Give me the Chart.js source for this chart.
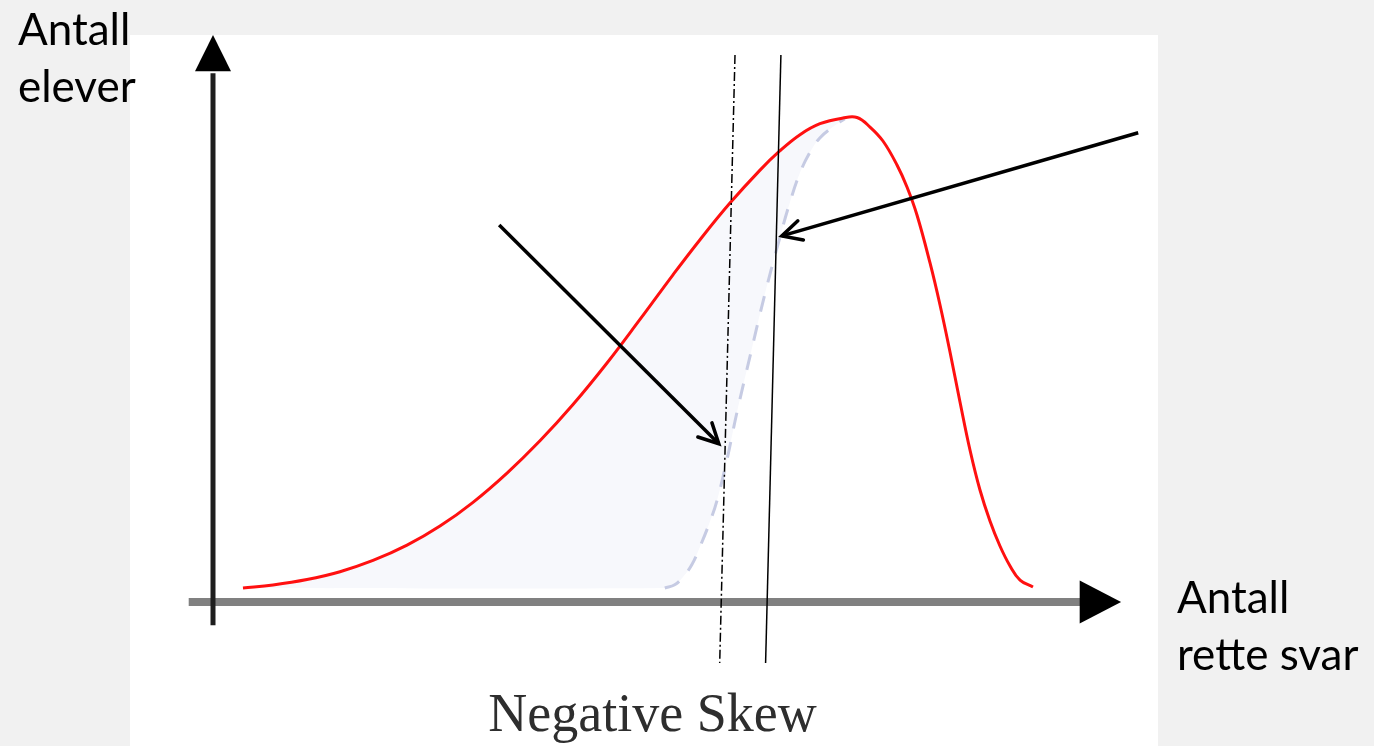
<!DOCTYPE html>
<html><head><meta charset="utf-8">
<script src="https://cdn.jsdelivr.net/npm/chart.js@4.4.1/dist/chart.umd.min.js"></script>
<style>
html,body{margin:0;padding:0;background:#f1f1f1;width:1374px;height:746px;overflow:hidden;position:relative}
#panel{position:absolute;left:130px;top:35px;width:1028px;height:711px;background:#fff}
#c{position:absolute;left:0;top:0}
.lbl{position:absolute;font-family:Lato,'Open Sans',sans-serif;font-size:44px;line-height:57px;color:#000;white-space:pre}
#yl{left:18px;top:0}
#xl{left:1177px;top:568px}
#cap{position:absolute;left:0;width:1305px;text-align:center;top:686px;font-family:'Liberation Serif',serif;font-size:54px;line-height:54px;color:#2e2e2e}
</style></head>
<body>
<div id="panel"></div>
<canvas id="c" width="1374" height="746"></canvas>
<div class="lbl" id="yl">Antall
elever</div>
<div class="lbl" id="xl">Antall
rette svar</div>
<div id="cap">Negative Skew</div>
<script>
// Skewed distribution curve (x = antall rette svar, y = antall elever), 0..100 units
const redX = [3.33, 6.67, 10.44, 14.11, 17.78, 21.56, 25.22, 28.89, 32.67, 36.33, 40.0, 43.78, 47.44, 51.11, 54.11, 57.44, 60.78, 63.0, 65.22, 67.44, 70.0, 71.56, 73.0, 74.44, 76.0, 77.11, 78.22, 79.67, 80.78, 81.89, 83.0, 84.11, 85.22, 86.33, 87.44, 88.56, 89.67, 91.11];
const redY = [2.59, 3.15, 4.15, 5.61, 7.69, 10.52, 14.06, 18.46, 23.87, 29.85, 36.57, 44.26, 52.33, 60.59, 67.09, 73.87, 79.98, 83.57, 86.54, 88.57, 89.63, 89.72, 87.96, 85.37, 80.93, 76.85, 71.67, 62.78, 55.0, 46.3, 37.04, 28.15, 20.74, 15.0, 10.37, 6.67, 4.07, 2.78];
// Dashed (symmetric reference) curve bounding the shaded area
const dashX = [3.3, 50.2, 51.3, 52.2, 53.2, 54.1, 55.2, 56.0, 57.1, 58.2, 59.7, 61.3, 63.0, 64.1, 65.2, 66.3, 67.4, 68.9, 70.2];
const dashY = [2.6, 2.6, 3.2, 4.6, 6.9, 10.2, 14.8, 18.8, 26.3, 35.0, 45.7, 56.9, 67.6, 74.0, 79.4, 83.2, 85.9, 88.0, 89.5];
// Mean (dash-dot) and median (solid) lines
const meanLineX = [58.0, 56.3];
const meanLineY = [101.3, -11.3];
const medianLineX = [63.1, 61.4];
const medianLineY = [101.3, -11.3];
// Pointer arrows
const arrowAX = [31.8, 56.2];
const arrowAY = [69.8, 29.3];
const arrowBX = [102.8, 63.2];
const arrowBY = [86.9, 67.8];

const pts = (xs, ys) => xs.map((x, i) => ({x, y: ys[i]}));

const AX = {yFrom: -4.3, yTo: 98.3, yTip: 105, xFrom: -2.7, xTo: 96.3, xTip: 100.9, yHalf: 2.0, xHalf: 4.0};

const axesPlugin = {
  id: 'axes',
  beforeDatasetsDraw(chart) {
    const {ctx, scales: {x, y}} = chart;
    ctx.save();
    const y0 = y.getPixelForValue(0);
    ctx.strokeStyle = '#808080'; ctx.lineWidth = 8; ctx.lineCap = 'butt';
    ctx.beginPath(); ctx.moveTo(x.getPixelForValue(AX.xFrom), y0); ctx.lineTo(x.getPixelForValue(AX.xTo) + 2, y0); ctx.stroke();
    ctx.fillStyle = '#000';
    ctx.beginPath();
    ctx.moveTo(x.getPixelForValue(AX.xTip), y0);
    ctx.lineTo(x.getPixelForValue(AX.xTo), y.getPixelForValue(AX.xHalf));
    ctx.lineTo(x.getPixelForValue(AX.xTo), y.getPixelForValue(-AX.xHalf));
    ctx.closePath(); ctx.fill();
    const x0 = x.getPixelForValue(0);
    ctx.strokeStyle = '#1e1e1e'; ctx.lineWidth = 5;
    ctx.beginPath(); ctx.moveTo(x0, y.getPixelForValue(AX.yFrom)); ctx.lineTo(x0, y.getPixelForValue(AX.yTo) + 2); ctx.stroke();
    ctx.beginPath();
    ctx.moveTo(x0, y.getPixelForValue(AX.yTip));
    ctx.lineTo(x.getPixelForValue(-AX.yHalf), y.getPixelForValue(AX.yTo));
    ctx.lineTo(x.getPixelForValue(AX.yHalf), y.getPixelForValue(AX.yTo));
    ctx.closePath(); ctx.fill();
    ctx.restore();
  }
};

const arrowHeadPlugin = {
  id: 'arrowHeads',
  afterDatasetsDraw(chart) {
    const ctx = chart.ctx;
    chart.data.datasets.forEach((ds, i) => {
      if (!ds.arrowHead) return;
      const meta = chart.getDatasetMeta(i);
      const n = meta.data.length;
      const a = meta.data[n - 2], b = meta.data[n - 1];
      const ang = Math.atan2(b.y - a.y, b.x - a.x);
      const len = 22, spread = 27 * Math.PI / 180;
      ctx.save();
      ctx.strokeStyle = ds.borderColor; ctx.lineWidth = ds.borderWidth;
      ctx.lineCap = 'round'; ctx.lineJoin = 'miter';
      ctx.beginPath();
      ctx.moveTo(b.x - len * Math.cos(ang - spread), b.y - len * Math.sin(ang - spread));
      ctx.lineTo(b.x, b.y);
      ctx.lineTo(b.x - len * Math.cos(ang + spread), b.y - len * Math.sin(ang + spread));
      ctx.stroke();
      ctx.restore();
    });
  }
};

const dashColor = '#c6cbe3';

new Chart(document.getElementById('c').getContext('2d'), {
  type: 'line',
  data: {
    datasets: [
      {data: pts(redX, redY), borderColor: '#ff1010', borderWidth: 3, pointRadius: 0, tension: 0.4, fill: false, order: 1, clip: false},
      {data: pts(dashX, dashY), borderWidth: 0, borderColor: 'rgba(0,0,0,0)', pointRadius: 0,
        tension: 0.4, fill: 0, backgroundColor: '#f7f8fc', order: 3, clip: false},
      {data: pts(dashX.slice(1), dashY.slice(1)), borderColor: dashColor, borderWidth: 3, borderDash: [16, 14], pointRadius: 0,
        tension: 0.4, fill: false, order: 2, clip: false},
      {data: pts(meanLineX, meanLineY), borderColor: '#000', borderWidth: 1.5, borderDash: [9, 3, 2, 3], pointRadius: 0, tension: 0, fill: false, order: 0, clip: false},
      {data: pts(medianLineX, medianLineY), borderColor: '#000', borderWidth: 1.5, pointRadius: 0, tension: 0, fill: false, order: 0, clip: false},
      {data: pts(arrowAX, arrowAY), borderColor: '#000', borderWidth: 3.5, pointRadius: 0, tension: 0, fill: false, order: 0, clip: false, arrowHead: true},
      {data: pts(arrowBX, arrowBY), borderColor: '#000', borderWidth: 3.5, pointRadius: 0, tension: 0, fill: false, order: 0, clip: false, arrowHead: true}
    ]
  },
  options: {
    responsive: false,
    animation: false,
    devicePixelRatio: 1,
    layout: {padding: {left: 213, right: 261, top: 62, bottom: 144}},
    plugins: {legend: {display: false}, tooltip: {enabled: false}},
    scales: {
      x: {type: 'linear', min: 0, max: 100, display: false},
      y: {type: 'linear', min: 0, max: 100, display: false}
    }
  },
  plugins: [axesPlugin, arrowHeadPlugin]
});
</script>
</body></html>
